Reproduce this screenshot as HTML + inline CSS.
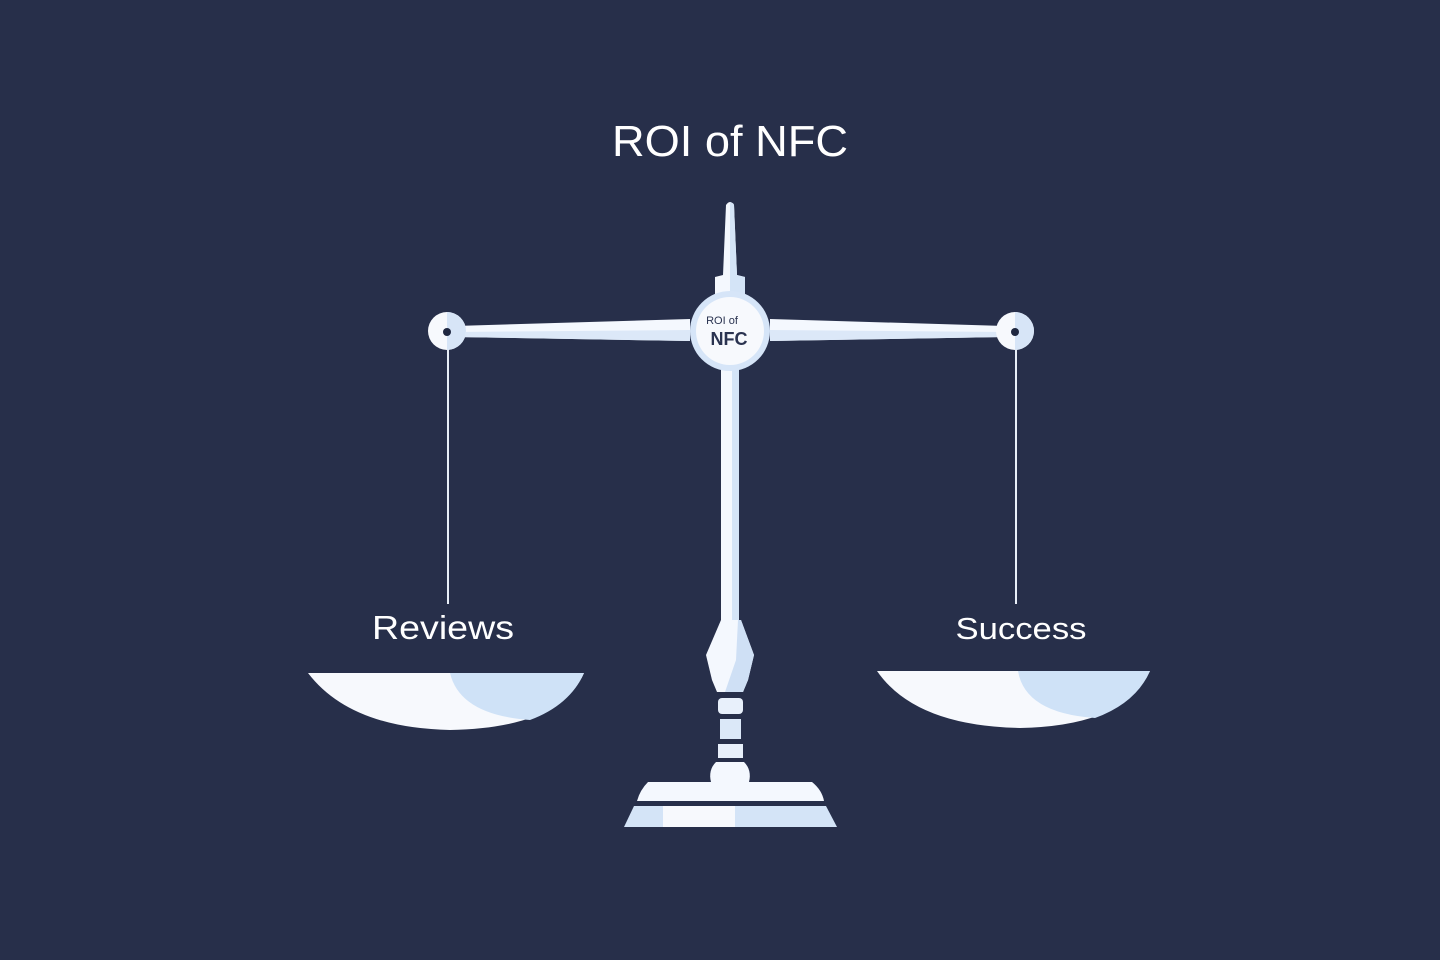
<!DOCTYPE html>
<html><head><style>html,body{margin:0;padding:0;background:#272f4a;}svg{display:block}</style></head>
<body>
<svg width="1440" height="960" viewBox="0 0 1440 960" xmlns="http://www.w3.org/2000/svg">
<rect width="1440" height="960" fill="#272f4a"/>
<text x="730" y="156" font-family="Liberation Sans, sans-serif" font-size="44" fill="#ffffff" text-anchor="middle" textLength="236" lengthAdjust="spacingAndGlyphs">ROI of NFC</text>
<!-- strings -->
<line x1="448" y1="345" x2="448" y2="604" stroke="#e8eef8" stroke-width="2"/>
<line x1="1016" y1="345" x2="1016" y2="604" stroke="#e8eef8" stroke-width="2"/>
<!-- spire -->
<path d="M726 205 Q730 199 734 205 L737 275 L745 277 L745 300 L715 300 L715 277 L723 275 Z" fill="#f4f8fe"/>
<path d="M730 202 Q734 203 734 205 L737 275 L745 277 L745 300 L730 300 Z" fill="#d4e4f7"/>
<!-- post -->
<rect x="721" y="360" width="18" height="270" fill="#f4f8fe"/>
<rect x="732" y="360" width="7" height="270" fill="#d4e4f7"/>
<!-- beam -->
<path d="M455 326 L690 319 L690 341 L455 337 Z" fill="#f4f8fe"/>
<path d="M1005 326 L770 319 L770 341 L1005 337 Z" fill="#f4f8fe"/>
<path d="M455 332 L690 330 L690 341 L455 337 Z" fill="#dce8f8"/>
<path d="M1005 332 L770 330 L770 341 L1005 337 Z" fill="#dce8f8"/>
<!-- pivots -->
<circle cx="447" cy="331" r="19" fill="#f7f9fd"/>
<path d="M447 312 A19 19 0 0 1 447 350 Z" fill="#d7e5f7"/>
<circle cx="447" cy="332" r="4" fill="#1f2740"/>
<circle cx="1015" cy="331" r="19" fill="#f7f9fd"/>
<path d="M1015 312 A19 19 0 0 1 1015 350 Z" fill="#d7e5f7"/>
<circle cx="1015" cy="332" r="4" fill="#1f2740"/>
<!-- hub -->
<circle cx="730" cy="331" r="40" fill="#d6e5f8"/>
<circle cx="730" cy="331" r="34" fill="#f7f9fd"/>
<text x="722" y="324" font-family="Liberation Sans, sans-serif" font-size="11" fill="#2a3350" text-anchor="middle">ROI of</text>
<text x="729" y="345" font-family="Liberation Sans, sans-serif" font-size="18" font-weight="bold" fill="#2a3350" text-anchor="middle">NFC</text>
<!-- collar -->
<path d="M721 620 L741 620 L754 655 L748 680 L743 692 L717 692 L712 680 L706 655 Z" fill="#f4f8fe"/>
<path d="M738 620 L741 620 L754 655 L748 680 L743 692 L725 692 L736 660 Z" fill="#cfe0f5"/>
<rect x="718" y="698" width="25" height="16" rx="4" fill="#e8f0fb"/>
<rect x="720" y="719" width="21" height="20" fill="#dbe8f8"/>
<rect x="718" y="744" width="25" height="14" fill="#e8f0fb"/>
<path d="M716 762 L744 762 Q752 770 749 782 L711 782 Q708 770 716 762 Z" fill="#f4f8fe"/>
<!-- base -->
<path d="M648 782 L812 782 Q822 790 824 801 L637 801 Q640 790 648 782 Z" fill="#f4f8fe"/>
<path d="M634 806 L826 806 L837 827 L624 827 Z" fill="#d4e4f7"/>
<rect x="663" y="806" width="72" height="21" fill="#f7f9fd"/>
<!-- labels -->
<text x="443" y="639" font-family="Liberation Sans, sans-serif" font-size="33" fill="#ffffff" text-anchor="middle" textLength="142" lengthAdjust="spacingAndGlyphs">Reviews</text>
<text x="1021" y="639" font-family="Liberation Sans, sans-serif" font-size="31" fill="#ffffff" text-anchor="middle" textLength="131" lengthAdjust="spacingAndGlyphs">Success</text>
<!-- pans -->
<path d="M308 673 L584 673 Q560 728 450 730 Q350 728 308 673 Z" fill="#f7f9fd"/>
<path d="M450 673 L584 673 Q570 705 530 720 Q460 715 450 673 Z" fill="#cfe2f7"/>
<path d="M877 671 L1150 671 Q1125 726 1020 728 Q915 726 877 671 Z" fill="#f7f9fd"/>
<path d="M1018 671 L1150 671 Q1136 703 1095 718 Q1025 713 1018 671 Z" fill="#cfe2f7"/>
</svg>
</body></html>
